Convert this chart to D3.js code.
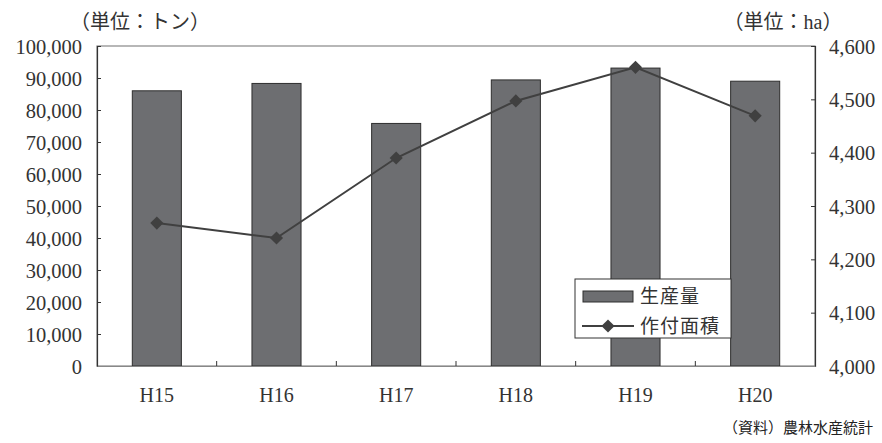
<!DOCTYPE html>
<html><head><meta charset="utf-8">
<script src="https://cdn.jsdelivr.net/npm/d3@7"></script>
<style>
body{margin:0;background:#fff;}
svg{display:block;}
</style></head>
<body>
<svg id="c" width="882" height="443"></svg>
<script>
const categories = ["H15","H16","H17","H18","H19","H20"];
const production = [86000, 88300, 75800, 89400, 93100, 89000];
const area = [4268, 4240, 4390, 4497, 4560, 4469];
const leftTicks = [0,10000,20000,30000,40000,50000,60000,70000,80000,90000,100000];
const rightTicks = [4000,4100,4200,4300,4400,4500,4600];
const seriesNames = ["生産量","作付面積"];

const svg = d3.select("#c");
const L = 97, R = 815, T = 46, B = 366;
const numFont = "'Liberation Serif', 'DejaVu Serif', serif";
const jpFont = "'Liberation Serif', 'Noto Sans CJK JP', serif";

const x = d3.scaleBand().domain(categories).range([L, R]).paddingInner(0.59).paddingOuter(0.295);
const xOuter = d3.scaleBand().domain(categories).range([L, R]);
const yL = d3.scaleLinear().domain([0, 100000]).range([B, T]);
const yR = d3.scaleLinear().domain([4000, 4600]).range([B, T]);

// plot border
svg.append("rect").attr("x", L).attr("y", T).attr("width", R - L).attr("height", B - T)
  .attr("fill", "none").attr("stroke", "#888").attr("stroke-width", 1.2);

// bars
svg.selectAll("rect.bar").data(production).join("rect").attr("class","bar")
  .attr("x", (d,i) => x(categories[i]))
  .attr("width", x.bandwidth())
  .attr("y", d => yL(d))
  .attr("height", d => B - yL(d))
  .attr("fill", "#6d6e71").attr("stroke", "#2e2e2e").attr("stroke-width", 1);

// left axis
const axL = d3.axisLeft(yL).tickValues(leftTicks).tickSize(-4).tickPadding(15)
  .tickFormat(d3.format(","));
const gL = svg.append("g").attr("transform", `translate(${L},0)`).call(axL);
gL.select(".domain").attr("stroke", "#333").attr("stroke-width", 1.2);
gL.selectAll(".tick line").attr("stroke", "#333");
gL.selectAll("text").attr("font-family", numFont).attr("font-size", 20.5).attr("fill", "#333")
  .attr("dy", "0.35em");

// right axis
const axR = d3.axisRight(yR).tickValues(rightTicks).tickSize(-4).tickPadding(14)
  .tickFormat(d3.format(","));
const gR = svg.append("g").attr("transform", `translate(${R},0)`).call(axR);
gR.select(".domain").attr("stroke", "#333").attr("stroke-width", 1.2);
gR.selectAll(".tick line").attr("stroke", "#333");
gR.selectAll("text").attr("font-family", numFont).attr("font-size", 20.5).attr("fill", "#333")
  .attr("dy", "0.35em");

// bottom axis
const gB = svg.append("g").attr("transform", `translate(0,${B})`)
  .call(d3.axisBottom(xOuter).tickSize(0).tickPadding(22));
gB.select(".domain").attr("stroke", "#888").attr("stroke-width", 1.2);
gB.selectAll("text").attr("font-family", numFont).attr("font-size", 20).attr("fill", "#333");
// category separator ticks
svg.selectAll("line.sep").data(categories.slice(1)).join("line").attr("class","sep")
  .attr("x1", d => xOuter(d)).attr("x2", d => xOuter(d))
  .attr("y1", B).attr("y2", B - 5).attr("stroke", "#333");

// line
const line = d3.line().x((d,i) => xOuter(categories[i]) + xOuter.bandwidth()/2).y(d => yR(d));
svg.append("path").datum(area).attr("d", line).attr("fill", "none")
  .attr("stroke", "#404040").attr("stroke-width", 2);
const diamond = d3.symbol().type(d3.symbolDiamond2).size(110);
svg.selectAll("path.mk").data(area).join("path").attr("class","mk")
  .attr("d", diamond)
  .attr("transform", (d,i) => `translate(${xOuter(categories[i]) + xOuter.bandwidth()/2},${yR(d)})`)
  .attr("fill", "#404040");

// unit labels
svg.append("text").attr("x", 140).attr("y", 29).attr("text-anchor", "middle")
  .attr("font-family", jpFont).attr("font-size", 20).attr("fill", "#333").text("（単位：トン）");
svg.append("text").attr("x", 783).attr("y", 29).attr("text-anchor", "middle")
  .attr("font-family", jpFont).attr("font-size", 20).attr("fill", "#333").text("（単位：ha）");

// legend
const lg = svg.append("g");
lg.append("rect").attr("x", 575).attr("y", 279).attr("width", 156).attr("height", 59)
  .attr("fill", "#fff").attr("stroke", "#333").attr("stroke-width", 1);
lg.append("rect").attr("x", 583).attr("y", 291).attr("width", 50).attr("height", 11)
  .attr("fill", "#6d6e71").attr("stroke", "#2e2e2e").attr("stroke-width", 1);
lg.append("line").attr("x1", 582).attr("x2", 634).attr("y1", 326).attr("y2", 326)
  .attr("stroke", "#404040").attr("stroke-width", 2);
lg.append("path").attr("d", diamond).attr("transform", "translate(608,326)").attr("fill", "#404040");
lg.selectAll("text").data(seriesNames).join("text")
  .attr("x", 640).attr("y", (d,i) => i === 0 ? 303 : 333)
  .attr("font-family", jpFont).attr("font-size", 19).attr("letter-spacing", 1).attr("fill", "#333")
  .text(d => d);

// source
svg.append("text").attr("x", 873).attr("y", 433).attr("text-anchor", "end")
  .attr("font-family", "'Noto Sans CJK JP', sans-serif").attr("font-size", 15).attr("fill", "#222")
  .text("（資料）農林水産統計");
</script>
</body></html>
